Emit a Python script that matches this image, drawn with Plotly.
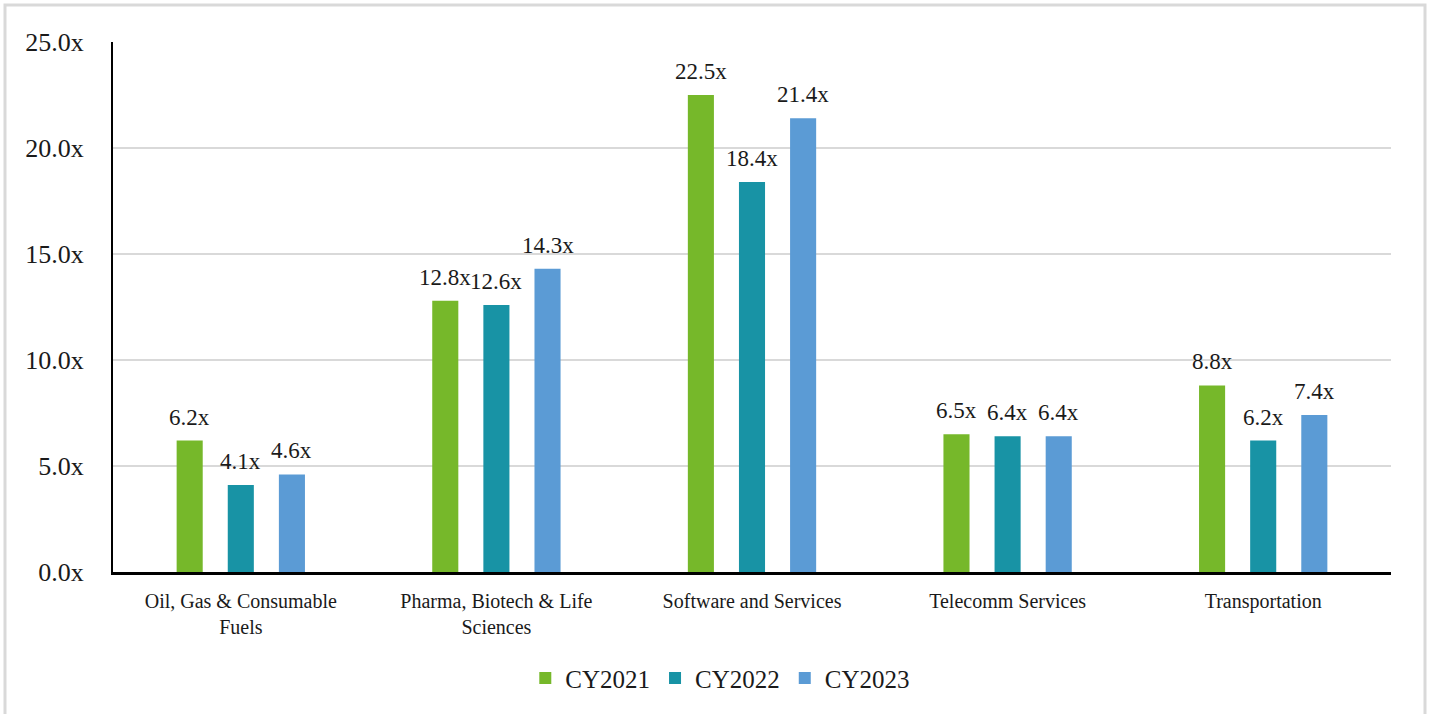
import plotly.graph_objects as go

categories = ["Oil, Gas & Consumable<br>Fuels", "Pharma, Biotech & Life<br>Sciences",
              "Software and Services", "Telecomm Services", "Transportation"]
series_names = ["CY2021", "CY2022", "CY2023"]
cy2021 = [6.2, 12.8, 22.5, 6.5, 8.8]
cy2022 = [4.1, 12.6, 18.4, 6.4, 6.2]
cy2023 = [4.6, 14.3, 21.4, 6.4, 7.4]
y_ticks = [0, 5, 10, 15, 20, 25]
colors = ["#76b82a", "#1893a5", "#5b9bd5"]

FONT = "Liberation Serif"
TXT = "#1a1a1a"
all_series = [cy2021, cy2022, cy2023]

fig = go.Figure()
for name, vals, col in zip(series_names, all_series, colors):
    fig.add_trace(go.Bar(name=name, x=categories, y=vals, marker_color=col,
                         marker_line_width=0))

# data labels above bars
bargap = 0.4
n = len(all_series)
slot = (1 - bargap) / n
annotations = []
for j, vals in enumerate(all_series):
    for i, v in enumerate(vals):
        annotations.append(dict(
            x=i + (j - (n - 1) / 2) * slot, y=v, xref="x", yref="y",
            text=f"{v:.1f}x", showarrow=False, yanchor="bottom", yshift=9,
            font=dict(family=FONT, size=23, color=TXT)))

fig.update_layout(
    width=1432, height=714,
    margin=dict(l=113, r=41, t=42, b=142),
    paper_bgcolor="white", plot_bgcolor="white",
    barmode="group", bargap=bargap, bargroupgap=0.49,
    font=dict(family=FONT, color=TXT),
    annotations=annotations,
    legend=dict(orientation="h", xref="container", yref="container",
                x=0.503, xanchor="center", y=0.05, yanchor="middle",
                font=dict(family=FONT, size=25, color=TXT),
                itemwidth=30, tracegroupgap=0),
    shapes=[dict(type="rect", xref="paper", yref="paper",
                 x0=(5 - 113) / 1278, x1=(1425 - 113) / 1278,
                 y0=(572 - 720) / 530, y1=(572 - 5) / 530,
                 line=dict(color="#d9d9d9", width=3), layer="below")],
)
fig.update_xaxes(type="category", showline=True, linecolor="black", linewidth=3,
                 showgrid=False, ticks="", ticklabelstandoff=9,
                 tickfont=dict(family=FONT, size=20, color=TXT))
fig.update_yaxes(range=[0, 25], tickvals=y_ticks, ticktext=[f"{t:.1f}x" for t in y_ticks],
                 showline=True, linecolor="black", linewidth=2,
                 showgrid=True, gridcolor="#d9d9d9", gridwidth=2,
                 zeroline=False, ticks="", ticklabelstandoff=22,
                 tickfont=dict(family=FONT, size=26, color=TXT))

fig.write_html("out.html")
